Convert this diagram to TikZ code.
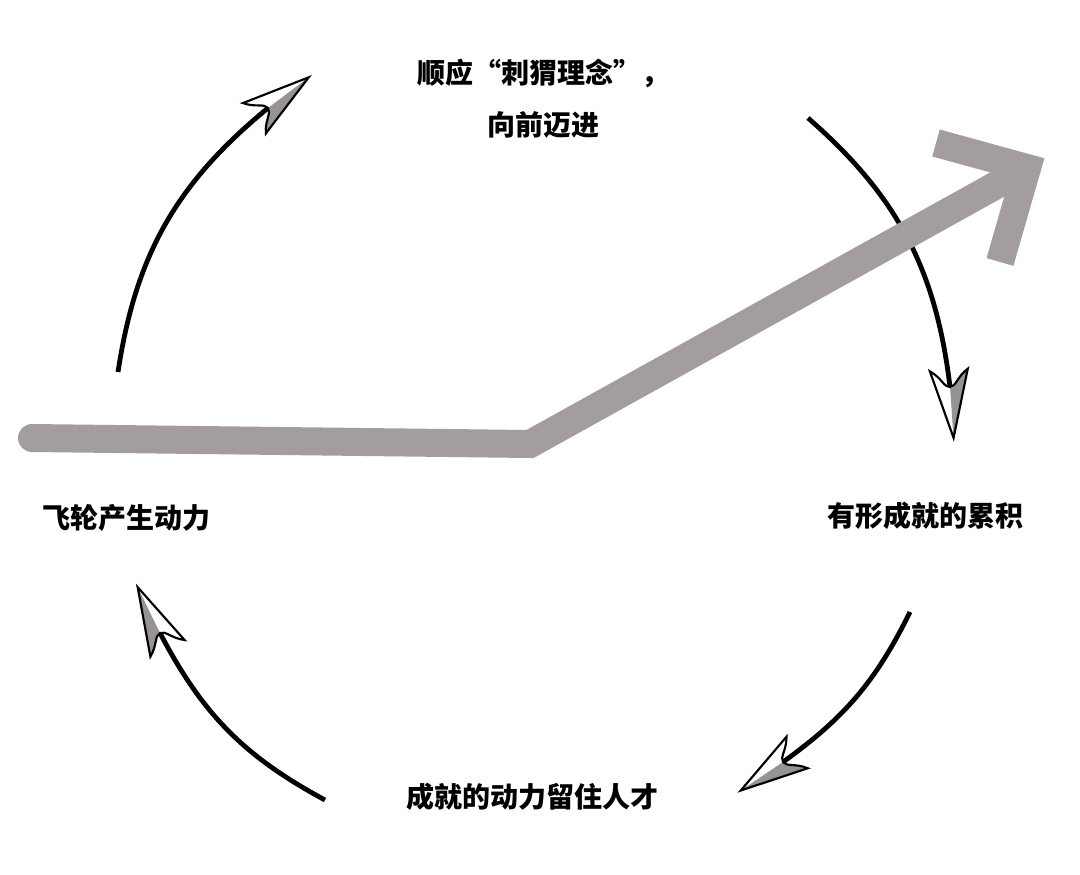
\documentclass[tikz,border=0pt]{standalone}
\usepackage{fontspec}
\newfontfamily\cjk{Noto Sans CJK SC}
\usetikzlibrary{arrows}

\definecolor{bandgray}{RGB}{163,157,162}
\definecolor{dartgray}{RGB}{150,146,150}

\tikzset{
  dart/.pic={
    \fill[dartgray] (51,0) -- (-17,19) .. controls (-10,8) and (0,6) .. (0,0) -- cycle;
    \draw[line width=1.6pt, line join=miter] (51,0) -- (-17,19) .. controls (-10,8) and (0,6) .. (0,0) .. controls (0,-6) and (-10,-8) .. (-17,-19) -- cycle;
  }
}

\begin{document}
\begin{tikzpicture}[x=0.75pt,y=0.75pt,yscale=-1,xscale=1,
  cycleline/.style={line width=3.6pt},
  band/.style={line width=21pt, color=bandgray, line join=miter},
  steplabel/.style={inner sep=0.75pt, font=\cjk\bfseries\fontsize{21}{39}\selectfont, align=center}]
%set diagram size: 1080 x 874
\useasboundingbox (0,0) rectangle (1080,874);

% Text Node
\node[steplabel] (hedgehog) at (543,99) {顺应“刺猬理念”，\\向前迈进};
% Text Node
\node[steplabel] (results) at (925,516) {有形成就的累积};
% Text Node
\node[steplabel] (talent) at (532,797) {成就的动力留住人才};
% Text Node
\node[steplabel] (momentum) at (126,518) {飞轮产生动力};

%Curve Lines
\coordinate (upS) at (118,372);
\coordinate (upE) at (268,108);
\coordinate (rightS) at (808,118);
\coordinate (rightE) at (950,387);
\coordinate (downS) at (910,612);
\coordinate (downE) at (783,762);
\coordinate (leftS) at (325,800);
\coordinate (leftE) at (160,633);
\draw[cycleline] (upS) to[bend right=21] (upE);
\draw[cycleline] (rightS) to[bend right=21] (rightE);
\draw[cycleline] (downS) to[bend right=14] (downE);
\draw[cycleline] (leftS) to[bend right=17] (leftE);
\pic[rotate=37, yscale=-1] at (upE) {dart};
\pic[rotate=-86] at (rightE) {dart};
\pic[rotate=-146] at (downE) {dart};
\pic[rotate=-244] at (leftE) {dart};

%Straight Lines
\coordinate (tail) at (32,438);
\coordinate (knee) at (530,444);
\coordinate (head) at (1027,168);
\coordinate (barbA) at (936,143);
\coordinate (barbB) at (1000,262);
\draw[band, line cap=round] (tail) -- (knee) -- (head);
\draw[band, line cap=butt] (barbA) -- (head) -- (barbB);

\end{tikzpicture}
\end{document}
